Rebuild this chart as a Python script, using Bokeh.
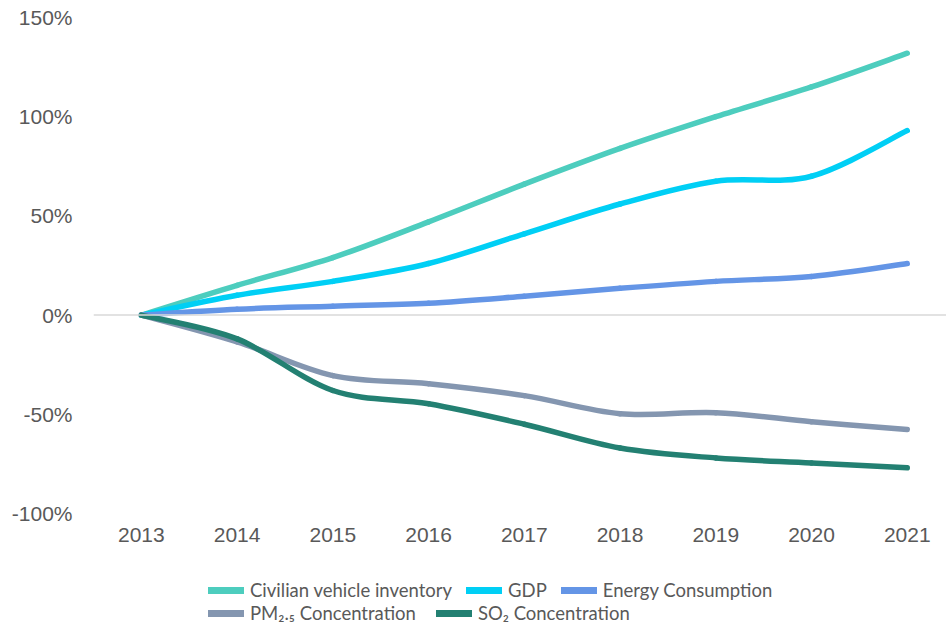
from bokeh.plotting import figure
from bokeh.layouts import column
from bokeh.models import Span, Legend, LegendItem, PrintfTickFormatter, FixedTicker, ColumnDataSource, Range1d
from bokeh.embed import file_html
from bokeh.resources import INLINE

years = [2013, 2014, 2015, 2016, 2017, 2018, 2019, 2020, 2021]
civilian = [0, 15, 29, 47, 66, 84, 100, 115, 132]
gdp = [0, 10, 17, 26, 41, 56, 67.5, 70, 93]
energy = [0, 3, 4.5, 6, 9.5, 13.5, 17, 19.5, 26]
pm25 = [0, -13.5, -30.5, -34.6, -40.6, -49.7, -49.2, -53.7, -57.7]
so2 = [0, -12, -38, -44.7, -55, -67, -72, -74.5, -77]

series = [
    ("Civilian vehicle inventory", civilian, "#4DCDBE"),
    ("GDP", gdp, "#00CFF5"),
    ("Energy Consumption", energy, "#6495E6"),
    ("PM\u2082.\u2085 Concentration", pm25, "#8496B0"),
    ("SO\u2082 Concentration", so2, "#238072"),
]
y_ticks = [-100, -50, 0, 50, 100, 150]


def bezier_source(xs, ys):
    n = len(xs)
    d = dict(x0=[], y0=[], x1=[], y1=[], cx0=[], cy0=[], cx1=[], cy1=[])
    for i in range(n - 1):
        a = max(i - 1, 0)
        b = min(i + 2, n - 1)
        d["x0"].append(xs[i]); d["y0"].append(ys[i])
        d["x1"].append(xs[i + 1]); d["y1"].append(ys[i + 1])
        d["cx0"].append(xs[i] + (xs[i + 1] - xs[a]) / 6)
        d["cy0"].append(ys[i] + (ys[i + 1] - ys[a]) / 6)
        d["cx1"].append(xs[i + 1] - (xs[b] - xs[i]) / 6)
        d["cy1"].append(ys[i + 1] - (ys[b] - ys[i]) / 6)
    return ColumnDataSource(d)


W = 946
p = figure(width=W, height=562, output_backend="svg", toolbar_location=None,
           x_range=Range1d(2012.5, 2021.41), y_range=Range1d(-100, 150),
           min_border_left=93, min_border_right=0, min_border_top=17, min_border_bottom=49)
p.outline_line_color = None
p.xgrid.grid_line_color = None
p.ygrid.grid_line_color = None

tick_font = "Liberation Sans"
for ax in (p.xaxis[0], p.yaxis[0]):
    ax.axis_line_color = None
    ax.major_tick_line_color = None
    ax.minor_tick_line_color = None
    ax.major_label_text_color = "#595959"
    ax.major_label_text_font = tick_font
    ax.major_label_text_font_size = "21px"
p.yaxis[0].ticker = FixedTicker(ticks=y_ticks)
p.yaxis[0].formatter = PrintfTickFormatter(format="%d%%")
p.yaxis[0].major_label_standoff = 15
p.xaxis[0].ticker = FixedTicker(ticks=years)
p.xaxis[0].major_label_standoff = 8

p.add_layout(Span(location=0, dimension="width", line_color="#D9D9D9", line_width=1.5))

sources = []
for label, ys, color in series:
    src = bezier_source(years, ys)
    sources.append(src)
    p.bezier(x0="x0", y0="y0", x1="x1", y1="y1", cx0="cx0", cy0="cy0", cx1="cx1", cy1="cy1",
             source=src, line_color=color, line_width=5.5, line_cap="round")

# legend panel below the chart (its own frame shows nothing but the legend)
lp = figure(width=W, height=65, output_backend="svg", toolbar_location=None,
            x_axis_type=None, y_axis_type=None, x_range=Range1d(0, 1), y_range=Range1d(0, 1),
            min_border=0)
lp.outline_line_color = None
lp.grid.visible = False

items = []
for (label, ys, color), src in zip(series, sources):
    r = lp.line(x="x0", y="y0", source=src, line_color=color, line_width=7, line_cap="round")
    items.append(LegendItem(label=label, renderers=[r]))


def make_legend(its, loc, spacing):
    lg = Legend(items=its, location=loc, orientation="horizontal")
    lg.border_line_color = None
    lg.background_fill_alpha = 0
    lg.padding = 0
    lg.margin = 0
    lg.spacing = spacing
    lg.glyph_width = 36
    lg.glyph_height = 20
    lg.label_height = 20
    lg.label_standoff = 6
    lg.label_text_font = "Lato"
    lg.label_text_font_size = "18.5px"
    lg.label_text_color = "#595959"
    return lg


lp.add_layout(make_legend(items[:3], (115, 26), 14))
lp.add_layout(make_legend(items[3:], (115, 3), 20))

open("out.html", "w").write(file_html(column(p, lp, spacing=0), INLINE))
